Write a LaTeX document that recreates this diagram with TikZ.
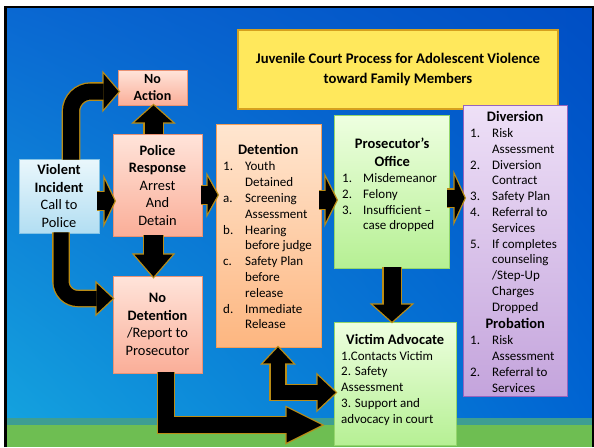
\documentclass[tikz,border=0pt]{standalone}
\usepackage{fontspec}
\setmainfont{Carlito}
\usetikzlibrary{calc,shadings}

\definecolor{agold}{RGB}{186,140,22}
\definecolor{bgUL}{RGB}{10,104,210}
\definecolor{bgUR}{RGB}{0,78,196}
\definecolor{bgLL}{RGB}{20,162,222}
\definecolor{bgLR}{RGB}{0,100,210}
\definecolor{bandT}{RGB}{62,158,146}
\definecolor{bandG}{RGB}{110,190,82}
\definecolor{viT}{RGB}{234,247,252}
\definecolor{viB}{RGB}{178,222,242}
\definecolor{viD}{RGB}{130,195,230}
\definecolor{saT}{RGB}{255,228,218}
\definecolor{saB}{RGB}{250,174,152}
\definecolor{saD}{RGB}{234,146,116}
\definecolor{deT}{RGB}{255,230,208}
\definecolor{deB}{RGB}{253,182,128}
\definecolor{deD}{RGB}{244,158,88}
\definecolor{grT}{RGB}{238,255,224}
\definecolor{grB}{RGB}{182,240,148}
\definecolor{grD}{RGB}{148,214,108}
\definecolor{puT}{RGB}{238,224,247}
\definecolor{puB}{RGB}{196,164,220}
\definecolor{puD}{RGB}{150,100,190}
\definecolor{tiF}{RGB}{255,232,92}
\definecolor{tiD}{RGB}{214,160,30}

\tikzset{
  box/.style={draw, line width=0.8pt, inner sep=0pt, align=center,
    font=\fontsize{14.4}{17.5}\selectfont},
  bluebox/.style={box, draw=viD, top color=viT, bottom color=viB},
  salbox/.style={box, draw=saD, top color=saT, bottom color=saB},
  detbox/.style={box, draw=deD, top color=deT, bottom color=deB},
  grnbox/.style={box, draw=grD, top color=grT, bottom color=grB},
  purbox/.style={box, draw=puD, top color=puT, bottom color=puB},
  titlebox/.style={draw=tiD, line width=2.5pt, fill=tiF, inner sep=0pt, align=center,
    font=\fontsize{14.7}{20}\selectfont\bfseries},
  listtext/.style={inner sep=0pt, anchor=base west, font=\fontsize{13}{15.8}\selectfont}
}

\newcommand\ArrowDraw[4][]{%
  \draw[agold, line width=#4pt+2.6pt, line join=miter, #1] #2;
  \draw[agold, line width=2.6pt, line join=miter] #3;
  \draw[black, line width=#4pt, line join=miter, #1] #2;
  \fill[black] #3;
}
\newcommand\SArrow[5]{%
  \coordinate (hb) at ($(#2)!#3pt!(#1)$);
  \coordinate (h1) at ($(hb)!#4pt!90:(#2)$);
  \coordinate (h2) at ($(hb)!#4pt!-90:(#2)$);
  \ArrowDraw{(#1) -- (hb)}{(h1) -- (#2) -- (h2) -- cycle}{#5}%
}

\begin{document}
\begin{tikzpicture}[x=1pt,y=-1pt]
\useasboundingbox (0,0) rectangle (594,447);
\fill[white] (0,0) rectangle (594,447);
\shade[upper left=bgUL, upper right=bgUR, lower left=bgLL, lower right=bgLR] (4,6) rectangle (594,418);
\fill[bandT] (4,418) rectangle (594,425);
\fill[bandG] (4,425) rectangle (594,447);
\draw[black, line width=2.5pt] (5.5,447) -- (5.5,7.2) -- (592.8,7.2) -- (592.8,447);

% boxes
\node[titlebox, minimum width=320, minimum height=79] (title) at (398,69.5)
  {Juvenile Court Process for Adolescent Violence\\toward Family Members};
\node[salbox, minimum width=69, minimum height=35, font=\fontsize{14}{17}\selectfont] (na) at (152.5,87.5)
  {\textbf{No}\\\textbf{Action}};
\node[bluebox, minimum width=80, minimum height=74] (vi) at (59,196)
  {\textbf{Violent}\\\textbf{Incident}\\Call to\\Police};
\node[salbox, minimum width=89, minimum height=102] (pr) at (157.5,185)
  {\textbf{Police}\\\textbf{Response}\\Arrest\\And\\Detain};
\node[salbox, minimum width=89, minimum height=97] (nd) at (157.5,324.5)
  {\textbf{No}\\\textbf{Detention}\\/Report to\\Prosecutor};
\node[detbox, minimum width=105, minimum height=223] (det) at (268.5,235.5) {};
\node[grnbox, minimum width=115, minimum height=153] (pro) at (391.5,191.5) {};
\node[grnbox, minimum width=122, minimum height=123] (va) at (395,383.5) {};
\node[purbox, minimum width=104, minimum height=291] (div) at (515,250.5) {};

% box texts
\node[listtext] (dett) at (223,154) {%
\begin{tabular}[t]{@{}p{22pt}@{}p{68pt}@{}}
\multicolumn{2}{@{}c@{}}{\fontsize{14.5}{16}\selectfont\bfseries Detention}\\[1pt]
1. & Youth\\ & Detained\\ a. & Screening\\ & Assessment\\ b. & Hearing\\ & before judge\\
c. & Safety Plan\\ & before\\ & release\\ d. & Immediate\\ & Release
\end{tabular}};

\node[listtext] (prot) at (342,148) {%
\begin{tabular}[t]{@{}p{21pt}@{}p{79pt}@{}}
\multicolumn{2}{@{}c@{}}{\fontsize{14.5}{16}\selectfont\bfseries Prosecutor’s}\\[2.2pt]
\multicolumn{2}{@{}c@{}}{\fontsize{14.5}{16}\selectfont\bfseries Office}\\[0.7pt]
1. & Misdemeanor\\ 2. & Felony\\ 3. & Insufficient –\\ & case dropped
\end{tabular}};

\node[listtext] (divt) at (470,121) {%
\begin{tabular}[t]{@{}p{22pt}@{}p{68pt}@{}}
\multicolumn{2}{@{}c@{}}{\fontsize{14.5}{16}\selectfont\bfseries Diversion}\\[0.7pt]
1. & Risk\\ & Assessment\\ 2. & Diversion\\ & Contract\\ 3. & Safety Plan\\
4. & Referral to\\ & Services\\ 5. & If completes\\ & counseling\\ & /Step-Up\\
& Charges\\ & Dropped\\[1.7pt]
\multicolumn{2}{@{}c@{}}{\fontsize{14.5}{16}\selectfont\bfseries Probation}\\
1. & Risk\\ & Assessment\\ 2. & Referral to\\ & Services
\end{tabular}};

\node[listtext] (vat) at (341,344) {%
\begin{tabular}[t]{@{}p{108pt}@{}}
\multicolumn{1}{@{}c@{}}{\fontsize{14.5}{16}\selectfont\bfseries Victim Advocate}\\[0.3pt]
1.Contacts Victim\\ 2. Safety\\ Assessment\\ 3. Support and\\ advocacy in court
\end{tabular}};

% straight arrows
\coordinate (a1s) at ($(vi.east)+(-2,5)$);
\coordinate (a1t) at ($(pr.west|-vi.east)+(2,5)$);
\SArrow{a1s}{a1t}{10}{21}{18}

\coordinate (a2s) at ($(pr.east)+(-1,10)$);
\coordinate (a2t) at ($(det.west|-pr.east)+(2,10)$);
\SArrow{a2s}{a2t}{10}{18}{18}

\coordinate (a3s) at ($(det.east|-pr.east)+(-2,15)$);
\coordinate (a3t) at ($(pro.west|-pr.east)+(3,15)$);
\SArrow{a3s}{a3t}{11}{22}{18}

\coordinate (a4s) at ($(pro.east)+(-2,6.5)$);
\coordinate (a4t) at ($(div.west|-pro.east)+(2,6.5)$);
\SArrow{a4s}{a4t}{10}{22}{17}

\coordinate (a5s) at ($(pr.north)+(-4,0)$);
\coordinate (a5t) at ($(na.south)+(1,0)$);
\SArrow{a5s}{a5t}{17}{19}{18}

\coordinate (a6s) at ($(pr.south)+(-4,-1)$);
\coordinate (a6t) at ($(nd.north)+(-4,1)$);
\SArrow{a6s}{a6t}{22}{19}{19}

\coordinate (a7s) at ($(pro.south)+(0.5,-1)$);
\coordinate (a7t) at ($(va.north)+(-3,0)$);
\SArrow{a7s}{a7t}{17}{19}{17}

% curved arrow to No Action
\coordinate (a8s) at ($(vi.north)+(12,1)$);
\coordinate (a8t) at ($(na.west)+(1,4)$);
\coordinate (a8c) at (a8s|-a8t);
\coordinate (a8b) at ($(a8t)+(-15,0)$);
\ArrowDraw[rounded corners=20pt]{(a8s) -- (a8c) -- (a8b)}{($(a8b)+(0,-17.5)$) -- (a8t) -- ($(a8b)+(0,17.5)$) -- cycle}{16}

% curved arrow to No Detention
\coordinate (a9s) at ($(vi.south)+(2,-1)$);
\coordinate (a9t) at ($(nd.west)+(0,-26)$);
\coordinate (a9c) at (a9s|-a9t);
\coordinate (a9b) at ($(a9t)+(-16,0)$);
\ArrowDraw[rounded corners=17pt]{(a9s) -- (a9c) -- (a9b)}{($(a9b)+(0,-15)$) -- (a9t) -- ($(a9b)+(0,15)$) -- cycle}{15}

% elbow No Detention -> Victim Advocate
\coordinate (a10s) at ($(nd.south)+(8.5,-1)$);
\coordinate (a10t) at ($(va.west)+(-12,41.5)$);
\coordinate (a10c) at (a10s|-a10t);
\coordinate (a10b) at ($(a10t)+(-35,0)$);
\ArrowDraw{(a10s) -- (a10c) -- (a10b)}{($(a10b)+(0,-17.5)$) -- (a10t) -- ($(a10b)+(0,17.5)$) -- cycle}{16}

% double elbow Detention <-> Victim Advocate
\coordinate (a11t1) at ($(det.south)+(9.5,0)$);
\coordinate (a11t2) at ($(va.west)+(2,9)$);
\coordinate (a11c) at (a11t1|-a11t2);
\coordinate (a11b1) at ($(a11t1)+(0,16)$);
\coordinate (a11b2) at ($(a11t2)+(-18,0)$);
\ArrowDraw{(a11b1) -- (a11c) -- (a11b2)}{($(a11b1)+(-15,0)$) -- (a11t1) -- ($(a11b1)+(15,0)$) -- cycle ($(a11b2)+(0,-17)$) -- (a11t2) -- ($(a11b2)+(0,17)$) -- cycle}{14.5}
\end{tikzpicture}
\end{document}
